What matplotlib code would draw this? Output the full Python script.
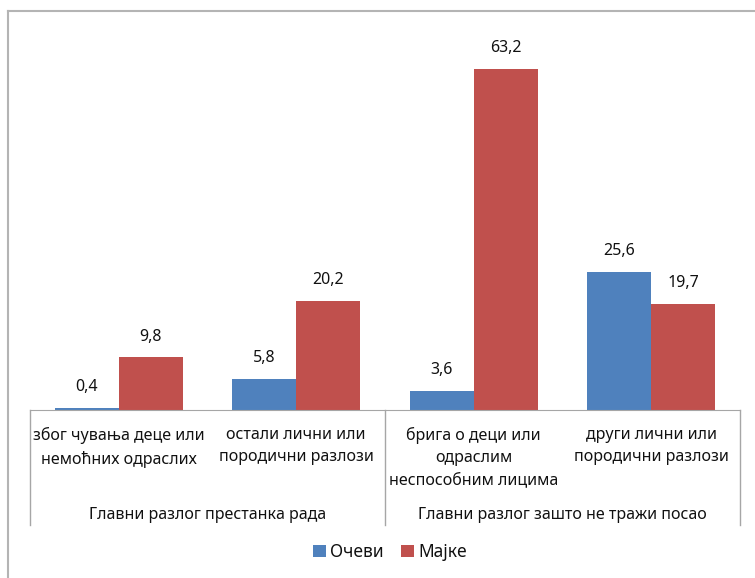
import matplotlib
matplotlib.use('Agg')
import matplotlib.pyplot as plt
from matplotlib.lines import Line2D

plt.rcParams['font.family'] = ['Noto Sans', 'DejaVu Sans']

# data
categories = ['због чувања деце или\nнемоћних одраслих',
              'остали лични или\nпородични разлози',
              'брига о деци или\nодраслим\nнеспособним лицима',
              'други лични или\nпородични разлози']
groups = ['Главни разлог престанка рада', 'Главни разлог зашто не тражи посао']
group_span = [(0, 1), (2, 3)]
fathers = [0.4, 5.8, 3.6, 25.6]
mothers = [9.8, 20.2, 63.2, 19.7]
series_names = ['Очеви', 'Мајке']

blue = '#4F81BD'
red = '#C0504D'
txt = '#111111'
grid_c = '#a6a6a6'
fs = 11.5

fig = plt.figure(figsize=(7.55, 5.78), dpi=100)
ax = fig.add_axes([30/755, 1 - 410/578, 710/755, 378/578])

x = list(range(len(categories)))
w = 0.36
b1 = ax.bar([i - w/2 for i in x], fathers, w, color=blue, label=series_names[0])
b2 = ax.bar([i + w/2 for i in x], mothers, w, color=red, label=series_names[1])

for bars, vals in [(b1, fathers), (b2, mothers)]:
    for r, v in zip(bars, vals):
        ax.annotate(f'{v:.1f}'.replace('.', ','),
                    (r.get_x() + r.get_width()/2, v),
                    xytext=(0, 9), textcoords='offset points',
                    ha='center', va='bottom', fontsize=fs, color=txt)

ax.set_xlim(-0.5, 3.5)
ax.set_ylim(0, 70)
ax.set_xticks([])
ax.set_yticks([])
for s in ['top', 'right', 'left']:
    ax.spines[s].set_visible(False)
ax.spines['bottom'].set_color(grid_c)

# two-level category axis
tr = ax.get_xaxis_transform()
px = 378.0
for i, c in enumerate(categories):
    ax.text(i, -17/px, c, transform=tr, ha='center', va='top',
            fontsize=fs, color=txt, linespacing=1.5)
for g, (a, b) in zip(groups, group_span):
    ax.text((a + b)/2, -105/px, g, transform=tr, ha='center', va='center',
            fontsize=fs, color=txt)
for xs in [-0.5, 1.5, 3.5]:
    ax.plot([xs, xs], [0, -115/px], transform=tr, color=grid_c, lw=1, clip_on=False)

fig.legend(loc='center', bbox_to_anchor=(390/755, 26/578), ncol=2, frameon=False,
           fontsize=12.5, handlelength=0.75, handleheight=0.75, handletextpad=0.25,
           columnspacing=1.0, labelcolor=txt)

# outer chart border (left and top edges visible)
fig.add_artist(Line2D([8/755, 8/755], [0, 1 - 11/578], color='#b4b4b4', lw=1.5,
                      transform=fig.transFigure))
fig.add_artist(Line2D([8/755, 1], [1 - 11/578, 1 - 11/578], color='#b4b4b4', lw=1.5,
                      transform=fig.transFigure))

fig.savefig('out.png', dpi=100)
